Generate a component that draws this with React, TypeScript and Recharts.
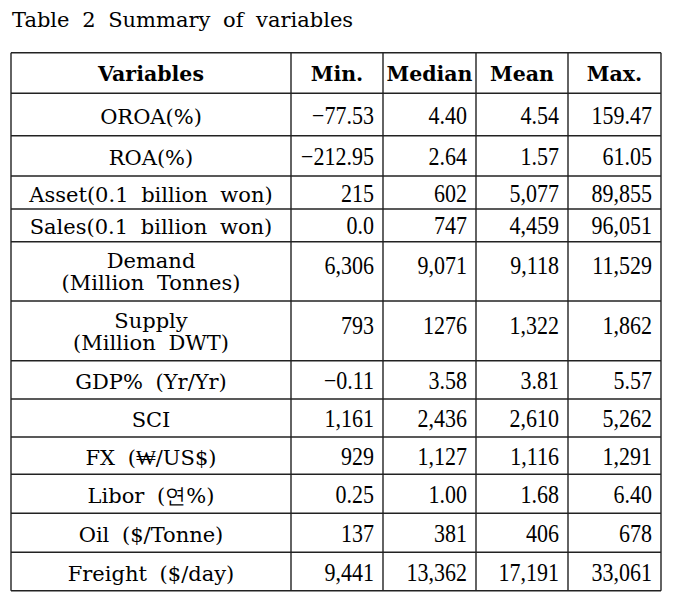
import React from "react";
import { ComposedChart, Customized } from "recharts";

const title = "Table 2 Summary of variables";
const headers = ["Variables", "Min.", "Median", "Mean", "Max."];
const variables: string[][] = [
  ["OROA(%)"],
  ["ROA(%)"],
  ["Asset(0.1 billion won)"],
  ["Sales(0.1 billion won)"],
  ["Demand", "(Million Tonnes)"],
  ["Supply", "(Million DWT)"],
  ["GDP% (Yr/Yr)"],
  ["SCI"],
  ["FX (₩/US$)"],
  ["Libor (연%)"],
  ["Oil ($/Tonne)"],
  ["Freight ($/day)"],
];
const mins = ["−77.53", "−212.95", "215", "0.0", "6,306", "793", "−0.11", "1,161", "929", "0.25", "137", "9,441"];
const medians = ["4.40", "2.64", "602", "747", "9,071", "1276", "3.58", "2,436", "1,127", "1.00", "381", "13,362"];
const means = ["4.54", "1.57", "5,077", "4,459", "9,118", "1,322", "3.81", "2,610", "1,116", "1.68", "406", "17,191"];
const maxs = ["159.47", "61.05", "89,855", "96,051", "11,529", "1,862", "5.57", "5,262", "1,291", "6.40", "678", "33,061"];

const rows = variables.map((v, i) => ({
  variable: v,
  min: mins[i],
  median: medians[i],
  mean: means[i],
  max: maxs[i],
}));

// layout (pixel positions of the table rules)
const COLS = [11, 291, 383, 476, 568, 661];
const ROWS = [52.7, 93.3, 135.7, 176, 209, 241.7, 301, 360.7, 399, 437, 474.3, 513.3, 552.3, 590.7];

const LABEL_FONT = "'DejaVu Serif', 'Liberation Serif', serif";
const NUM_FONT = "'Liberation Serif', 'Times New Roman', serif";

const labelStyle: React.CSSProperties = { fontFamily: LABEL_FONT, fontSize: 21, wordSpacing: 6 };
const numStyle: React.CSSProperties = { fontFamily: NUM_FONT, fontSize: 22 };

const TableLayer = () => {
  const els: React.ReactNode[] = [];
  els.push(<rect key="bg" x={0} y={0} width={681} height={592} fill="#fff" />);
  els.push(
    <text key="title" x={12} y={27} fill="#000" style={{ fontFamily: LABEL_FONT, fontSize: 21, wordSpacing: 6 }}>
      {title}
    </text>
  );
  const hy = (ROWS[0] + ROWS[1]) / 2;
  headers.forEach((h, c) => {
    const cx = (COLS[c] + COLS[c + 1]) / 2;
    els.push(
      <text key={"h" + c} x={cx} y={hy + 8} textAnchor="middle" fill="#000" style={{ fontFamily: LABEL_FONT, fontSize: 20.5, fontWeight: "bold" }}>
        {h}
      </text>
    );
  });
  rows.forEach((r, i) => {
    const top = ROWS[i + 1];
    const bot = ROWS[i + 2];
    const cy = (top + bot) / 2;
    const cx = (COLS[0] + COLS[1]) / 2;
    if (r.variable.length === 1) {
      els.push(
        <text key={"v" + i} x={cx} y={cy + 9} textAnchor="middle" fill="#000" style={labelStyle}>
          {r.variable[0]}
        </text>
      );
    } else {
      els.push(
        <text key={"va" + i} x={cx} y={cy - 3} textAnchor="middle" fill="#000" style={labelStyle}>
          {r.variable[0]}
        </text>
      );
      els.push(
        <text key={"vb" + i} x={cx} y={cy + 19} textAnchor="middle" fill="#000" style={labelStyle}>
          {r.variable[1]}
        </text>
      );
    }
    const vals = [r.min, r.median, r.mean, r.max];
    const ny = r.variable.length === 1 ? cy + 9 : cy + 3;
    vals.forEach((v, c) => {
      const x = COLS[c + 2] - 9;
      els.push(
        <text key={"n" + i + "-" + c} x={0} y={0} transform={`translate(${x},${ny}) scale(1,1.12)`} textAnchor="end" fill="#000" style={numStyle}>
          {v}
        </text>
      );
    });
  });
  ROWS.forEach((y, i) => {
    els.push(<line key={"hr" + i} x1={COLS[0]} x2={COLS[COLS.length - 1]} y1={y} y2={y} stroke="#222" strokeWidth={1.4} />);
  });
  COLS.forEach((x, i) => {
    els.push(<line key={"vr" + i} x1={x} x2={x} y1={ROWS[0]} y2={ROWS[ROWS.length - 1]} stroke="#222" strokeWidth={1.4} />);
  });
  return <g>{els}</g>;
};

export default function App() {
  return (
    <div style={{ position: "absolute", left: 0, top: 0, width: 681, height: 592, background: "#fff" }}>
      <ComposedChart width={681} height={592} data={rows} margin={{ top: 0, right: 0, bottom: 0, left: 0 }}>
        <Customized component={<TableLayer />} />
      </ComposedChart>
    </div>
  );
}
